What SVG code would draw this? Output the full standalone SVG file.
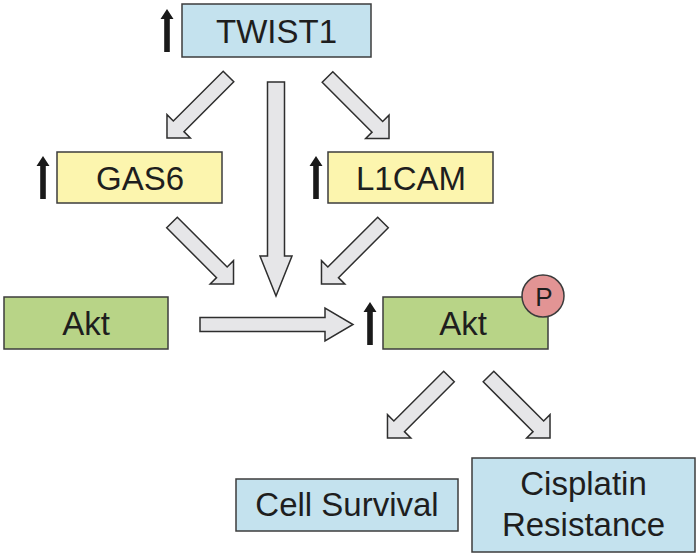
<svg xmlns="http://www.w3.org/2000/svg" xmlns:xlink="http://www.w3.org/1999/xlink" width="700" height="557" viewBox="0 0 700 557">
  <style>
    .box { stroke: #3c3c3c; stroke-width: 1.5; }
    .blue { fill: #c4e2ee; }
    .yellow { fill: #fcf5ae; }
    .green { fill: #b8d487; }
    .lbl { font-family: "Liberation Sans", Arial, sans-serif; font-size: 33px; fill: #1e1e1e; text-anchor: middle; }
    .big { fill: #e6e6e8; stroke: #2e2e2e; stroke-width: 1.5; stroke-linejoin: miter; }
    .up { fill: #1a1a1a; }
  </style>
  <defs>
    <path id="diag" d="M0,-7.5 L70.5,-7.5 L70.5,-16.5 L87,0 L70.5,16.5 L70.5,7.5 L0,7.5 Z"/>
    <path id="uparrow" d="M0,0 L6.5,10 L2.8,10 L2.8,43 L-2.8,43 L-2.8,10 L-6.5,10 Z"/>
  </defs>
  <rect width="700" height="557" fill="#ffffff"/>

  <g id="connectors">
    <use xlink:href="#diag" class="big" transform="translate(228.5,76.5) rotate(135)"/>
    <use xlink:href="#diag" class="big" transform="translate(327.5,77) rotate(45)"/>
    <path class="big" d="M267.5,82 L284.5,82 L284.5,256 L292,256 L276,296 L260,256 L267.5,256 Z"/>
    <use xlink:href="#diag" class="big" transform="translate(172,222.5) rotate(45)"/>
    <use xlink:href="#diag" class="big" transform="translate(383,222.5) rotate(135)"/>
    <path class="big" d="M200,317.5 L325,317.5 L325,308 L353,324.5 L325,341 L325,331.5 L200,331.5 Z"/>
    <use xlink:href="#diag" class="big" transform="translate(449,376.5) rotate(135)"/>
    <use xlink:href="#diag" class="big" transform="translate(488.5,376.5) rotate(45)"/>
  </g>

  <g id="twist1">
    <use xlink:href="#uparrow" class="up" transform="translate(167,9)"/>
    <rect class="box blue" x="182" y="4" width="189" height="53"/>
    <text class="lbl" x="276.5" y="43">TWIST1</text>
  </g>

  <g id="gas6">
    <use xlink:href="#uparrow" class="up" transform="translate(43,156)"/>
    <rect class="box yellow" x="57" y="152" width="165" height="51"/>
    <text class="lbl" x="140" y="190">GAS6</text>
  </g>

  <g id="l1cam">
    <use xlink:href="#uparrow" class="up" transform="translate(316,156)"/>
    <rect class="box yellow" x="328" y="152" width="165" height="51"/>
    <text class="lbl" x="411" y="190">L1CAM</text>
  </g>

  <g id="akt-left">
    <rect class="box green" x="4" y="297" width="164" height="52"/>
    <text class="lbl" x="86" y="335">Akt</text>
  </g>

  <g id="akt-right">
    <use xlink:href="#uparrow" class="up" transform="translate(370,302)"/>
    <rect class="box green" x="383" y="297" width="165" height="52"/>
    <text class="lbl" x="463" y="335">Akt</text>
  </g>

  <g id="phospho">
    <circle cx="543" cy="296" r="21" fill="#e29494" stroke="#3c3c3c" stroke-width="1.5"/>
    <text x="544" y="306" font-family="Liberation Sans, Arial, sans-serif" font-size="26" fill="#1e1e1e" text-anchor="middle">P</text>
  </g>

  <g id="cell-survival">
    <rect class="box blue" x="236" y="479" width="222" height="52"/>
    <text class="lbl" x="347" y="516">Cell Survival</text>
  </g>

  <g id="cisplatin-resistance">
    <rect class="box blue" x="472" y="458" width="223" height="94"/>
    <text class="lbl" x="583.5" y="495">Cisplatin</text>
    <text class="lbl" x="583.5" y="536">Resistance</text>
  </g>
</svg>
